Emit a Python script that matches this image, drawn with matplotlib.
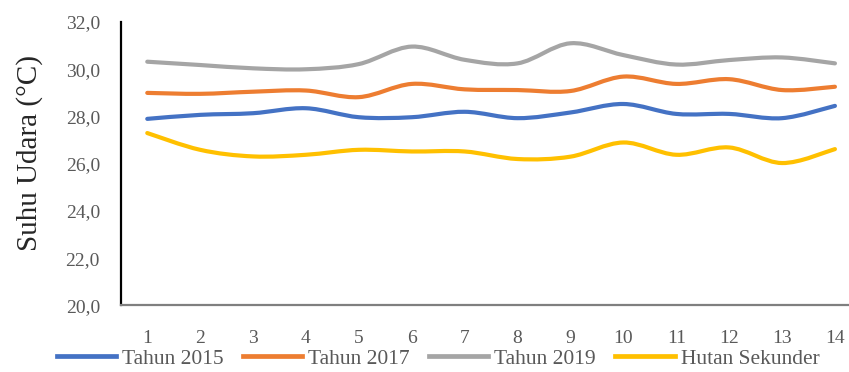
import numpy as np
import matplotlib
matplotlib.use("Agg")
import matplotlib.pyplot as plt
from matplotlib.path import Path
from matplotlib.patches import PathPatch
from matplotlib.lines import Line2D
from matplotlib.ticker import FuncFormatter

plt.rcParams['font.family'] = ['Liberation Serif', 'DejaVu Serif']

# Observation points
categories = list(range(1, 15))

tahun_2015 = [27.9, 28.07, 28.14, 28.35, 27.97, 27.97, 28.2, 27.93, 28.17, 28.53, 28.11, 28.11, 27.93, 28.45]
tahun_2017 = [29.0, 28.96, 29.05, 29.1, 28.82, 29.38, 29.15, 29.12, 29.08, 29.69, 29.38, 29.58, 29.12, 29.26]
tahun_2019 = [30.32, 30.18, 30.04, 30.0, 30.22, 30.96, 30.4, 30.25, 31.1, 30.6, 30.2, 30.39, 30.5, 30.25]
hutan_sekunder = [27.3, 26.59, 26.31, 26.38, 26.59, 26.52, 26.52, 26.2, 26.3, 26.9, 26.38, 26.69, 26.03, 26.62]

series_names = ['Tahun 2015', 'Tahun 2017', 'Tahun 2019', 'Hutan Sekunder']
series_values = [tahun_2015, tahun_2017, tahun_2019, hutan_sekunder]
colors = ['#4472C4', '#ED7D31', '#A5A5A5', '#FFC000']

y_ticks = [20, 22, 24, 26, 28, 30, 32]


def smooth_path(xs, ys):
    """Cubic Bezier path through the points (spreadsheet-style smoothed line)."""
    xs = np.asarray(xs, float)
    ys = np.asarray(ys, float)
    n = len(xs)
    verts = [(xs[0], ys[0])]
    codes = [Path.MOVETO]
    for i in range(n - 1):
        i0 = max(i - 1, 0)
        i3 = min(i + 2, n - 1)
        c1 = (xs[i] + (xs[i + 1] - xs[i0]) / 6.0, ys[i] + (ys[i + 1] - ys[i0]) / 6.0)
        c2 = (xs[i + 1] - (xs[i3] - xs[i]) / 6.0, ys[i + 1] - (ys[i3] - ys[i]) / 6.0)
        verts += [c1, c2, (xs[i + 1], ys[i + 1])]
        codes += [Path.CURVE4] * 3
    return Path(verts, codes)


fig = plt.figure(figsize=(8.49, 3.72), dpi=100)
ax = fig.add_axes([0.1423, 0.1788, 0.8723, 0.762])

handles = []
for name, vals, col in zip(series_names, series_values, colors):
    patch = PathPatch(smooth_path(categories, vals), facecolor='none', edgecolor=col,
                      lw=3.0, capstyle='round', joinstyle='round')
    ax.add_patch(patch)
    handles.append(Line2D([], [], color=col, lw=3.4, label=name))

ax.set_xlim(0.5, 14.5)
ax.set_ylim(20, 32)
ax.set_xticks(categories)
ax.set_yticks(y_ticks)
ax.yaxis.set_major_formatter(FuncFormatter(lambda v, p: f"{v:.1f}".replace('.', ',')))

ax.tick_params(axis='both', length=0, labelsize=14, colors='#595959')
ax.tick_params(axis='x', pad=18)
ax.tick_params(axis='y', pad=15)

for side in ['top', 'right']:
    ax.spines[side].set_visible(False)
ax.spines['left'].set_color('#000000')
ax.spines['left'].set_linewidth(1.6)
ax.spines['bottom'].set_color('#7f7f7f')
ax.spines['bottom'].set_linewidth(1.6)

fig.text(0.035, 0.59, 'Suhu Udara (°C)', rotation=90, ha='center', va='center',
         fontsize=21, color='#262626')

fig.legend(handles=handles, loc='center', bbox_to_anchor=(0.516, 0.035), ncol=4,
           frameon=False, fontsize=15.5, handlelength=2.75, handletextpad=0.28,
           columnspacing=0.9, labelcolor='#595959', borderpad=0.2)

fig.savefig('out.png', dpi=100)
